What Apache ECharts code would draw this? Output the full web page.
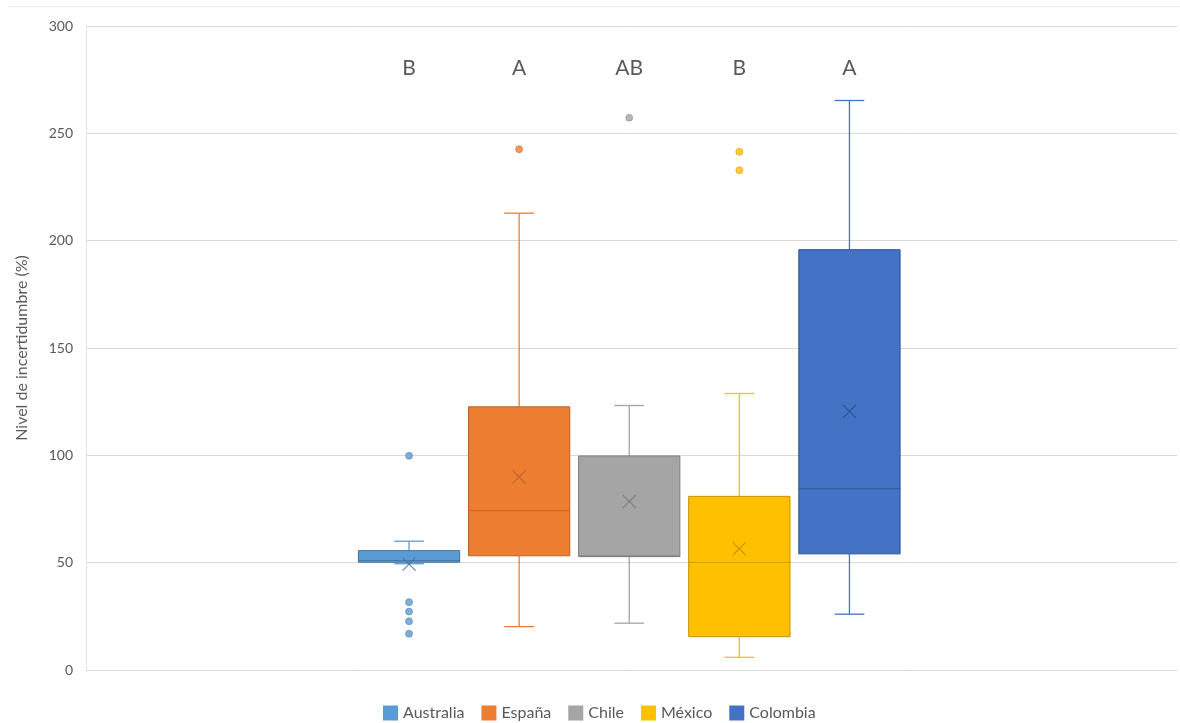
<!DOCTYPE html>
<html>
<head>
<meta charset="utf-8">
<script src="https://cdn.jsdelivr.net/npm/echarts@6/dist/echarts.min.js"></script>
<style>
  html, body { margin: 0; padding: 0; background: #ffffff; }
  #chart { width: 1180px; height: 723px; }
</style>
</head>
<body>
<div id="chart"></div>
<script>
// Uncertainty level (%) per country: five-number summaries, means and outliers
const countries = ['Australia', 'España', 'Chile', 'México', 'Colombia'];
const whiskerMin = [49.5, 20.2, 21.8, 5.9, 26.0];
const q1 = [50.2, 53.2, 52.8, 15.5, 54.1];
const median = [51.0, 74.2, 53.2, 50.1, 84.5];
const q3 = [55.6, 122.6, 99.7, 80.9, 195.8];
const whiskerMax = [60.0, 212.8, 123.2, 128.8, 265.3];
const means = [49.3, 90.0, 78.5, 56.5, 120.4];
const outliers = [
  [99.8, 31.6, 27.2, 22.7, 16.9],
  [242.6],
  [257.3],
  [241.4, 232.8],
  []
];
// Significance groups shown above each box
const groupLetters = ['B', 'A', 'AB', 'B', 'A'];
const yTicks = [0, 50, 100, 150, 200, 250, 300];

const fillColors = ['#5B9BD5', '#ED7D31', '#A5A5A5', '#FFC000', '#4472C4'];
const darkColors = ['#41719C', '#B9612A', '#7C7C7C', '#C29200', '#2F528F'];
const FONT = 'Lato, "Open Sans", "Liberation Sans", sans-serif';
const LETTER_Y = 280.2;

function boxRenderer(k) {
  return function (params, api) {
    const x = api.value(0);
    const pMin = api.coord([x, api.value(1)]);
    const pQ1 = api.coord([x, api.value(2)]);
    const pMed = api.coord([x, api.value(3)]);
    const pQ3 = api.coord([x, api.value(4)]);
    const pMax = api.coord([x, api.value(5)]);
    const pMean = api.coord([x, api.value(6)]);
    const pLetter = api.coord([x, LETTER_Y]);
    const half = api.size([0.92, 0])[0] / 2;
    const cap = api.size([0.27, 0])[0] / 2;
    const cx = pMin[0];
    const lineStyle = { stroke: fillColors[k], lineWidth: 1.3 };
    const xs = 6.5;
    return {
      type: 'group',
      children: [
        { type: 'line', shape: { x1: cx, y1: pMax[1], x2: cx, y2: pQ3[1] }, style: lineStyle },
        { type: 'line', shape: { x1: cx, y1: pQ1[1], x2: cx, y2: pMin[1] }, style: lineStyle },
        { type: 'line', shape: { x1: cx - cap, y1: pMax[1], x2: cx + cap, y2: pMax[1] }, style: lineStyle },
        { type: 'line', shape: { x1: cx - cap, y1: pMin[1], x2: cx + cap, y2: pMin[1] }, style: lineStyle },
        {
          type: 'rect',
          shape: { x: cx - half, y: pQ3[1], width: half * 2, height: pQ1[1] - pQ3[1] },
          style: { fill: fillColors[k], stroke: darkColors[k], lineWidth: 1, opacity: 1 }
        },
        {
          type: 'line',
          shape: { x1: cx - half, y1: pMed[1], x2: cx + half, y2: pMed[1] },
          style: { stroke: darkColors[k], lineWidth: 1, opacity: 0.8 }
        },
        {
          type: 'line',
          shape: { x1: cx - xs, y1: pMean[1] - xs, x2: cx + xs, y2: pMean[1] + xs },
          style: { stroke: darkColors[k], lineWidth: 1.2, opacity: 0.85 }
        },
        {
          type: 'line',
          shape: { x1: cx - xs, y1: pMean[1] + xs, x2: cx + xs, y2: pMean[1] - xs },
          style: { stroke: darkColors[k], lineWidth: 1.2, opacity: 0.85 }
        },
        {
          type: 'text',
          style: {
            x: cx, y: pLetter[1], text: groupLetters[k],
            fill: '#595959', font: '21px ' + FONT,
            textAlign: 'center', textVerticalAlign: 'middle'
          }
        }
      ]
    };
  };
}

const series = [];
countries.forEach(function (name, k) {
  series.push({
    name: name,
    type: 'custom',
    renderItem: boxRenderer(k),
    itemStyle: { color: fillColors[k] },
    encode: { x: 0, y: [1, 2, 3, 4, 5, 6] },
    data: [[k, whiskerMin[k], q1[k], median[k], q3[k], whiskerMax[k], means[k]]],
    z: 2
  });
});
countries.forEach(function (name, k) {
  series.push({
    name: name,
    type: 'scatter',
    symbol: 'circle',
    symbolSize: 7,
    itemStyle: { color: fillColors[k], borderColor: darkColors[k], borderWidth: 0.6 },
    data: outliers[k].map(function (v) { return [k, v]; }),
    z: 3
  });
});

const chart = echarts.init(document.getElementById('chart'), null, { renderer: 'canvas' });
chart.setOption({
  animation: false,
  backgroundColor: '#ffffff',
  grid: { left: 86, right: 3, top: 26, bottom: 53, containLabel: false },
  xAxis: {
    type: 'value',
    min: -2.934,
    max: 6.975,
    axisLine: { show: false },
    axisTick: { show: false },
    axisLabel: { show: false },
    splitLine: { show: false }
  },
  yAxis: {
    type: 'value',
    min: yTicks[0],
    max: yTicks[yTicks.length - 1],
    interval: 50,
    name: 'Nivel de incertidumbre (%)',
    nameLocation: 'middle',
    nameRotate: 90,
    nameGap: 56,
    nameTextStyle: { color: '#595959', fontSize: 16, fontFamily: FONT },
    axisLine: { show: true, onZero: false, lineStyle: { color: '#E3E3E3', width: 1 } },
    axisTick: { show: false },
    axisLabel: { color: '#595959', fontSize: 14, fontFamily: FONT, margin: 13 },
    splitLine: { show: true, lineStyle: { color: '#D9D9D9', width: 1 } }
  },
  legend: {
    data: countries.map(function (n) { return { name: n, icon: 'rect' }; }),
    top: 705,
    padding: 0,
    left: 383,
    itemWidth: 15,
    itemHeight: 15,
    itemGap: 17,
    textStyle: { color: '#595959', fontSize: 16, fontFamily: FONT }
  },
  graphic: [
    {
      type: 'line',
      shape: { x1: 8, y1: 6.5, x2: 1180, y2: 6.5 },
      style: { stroke: '#EBEBEB', lineWidth: 1 },
      silent: true
    }
  ],
  series: series
});
</script>
</body>
</html>
